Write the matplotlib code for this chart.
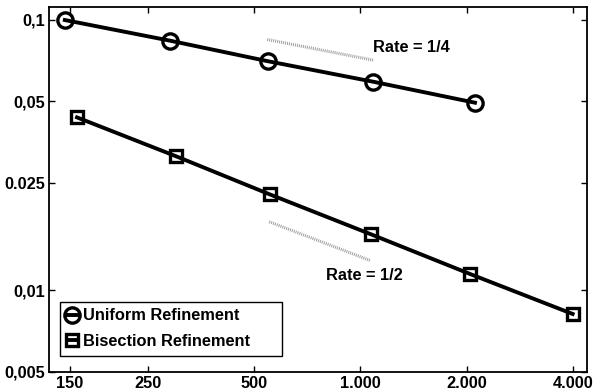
import matplotlib
matplotlib.use("Agg")
import matplotlib.pyplot as plt

plt.rcParams['font.family'] = ['Liberation Sans', 'DejaVu Sans']
plt.rcParams['font.weight'] = 'bold'

uniform_dofs = [145, 289, 545, 1089, 2113]
uniform_err = [0.0996, 0.0835, 0.0702, 0.0589, 0.0493]
bisect_dofs = [157, 299, 553, 1070, 2046, 4000]
bisect_err = [0.0435, 0.0313, 0.0226, 0.0161, 0.01148, 0.00817]

rate14_x = [544, 1087]
rate14_y = [0.0844, 0.0708]
rate12_x = [551, 1070]
rate12_y = [0.0179, 0.01285]

xticks = [150, 250, 500, 1000, 2000, 4000]
xticklabels = ['150', '250', '500', '1.000', '2.000', '4.000']
yticks = [0.005, 0.01, 0.025, 0.05, 0.1]
yticklabels = ['0,005', '0,01', '0.025', '0,05', '0,1']

fig = plt.figure(figsize=(5.94, 3.90), dpi=100)
ax = fig.add_axes([0.083, 0.047, 0.9047, 0.9343])

ax.set_xscale('log')
ax.set_yscale('log')

ax.plot(rate14_x, rate14_y, color='#a0a0a0', lw=2.2, dashes=(0.33, 0.33), dash_capstyle='butt')
ax.plot(rate12_x, rate12_y, color='#a0a0a0', lw=2.2, dashes=(0.33, 0.33), dash_capstyle='butt')

ax.plot(uniform_dofs, uniform_err, color='black', lw=2.8, marker='o', markersize=11,
        markerfacecolor='none', markeredgewidth=2.4, label='Uniform Refinement')
ax.plot(bisect_dofs, bisect_err, color='black', lw=2.8, marker='s', markersize=9,
        markerfacecolor='none', markeredgewidth=2.4, label='Bisection Refinement')

ax.set_xlim(131, 4385)
ax.set_ylim(0.005, 0.111)

ax.xaxis.set_minor_locator(matplotlib.ticker.NullLocator())
ax.yaxis.set_minor_locator(matplotlib.ticker.NullLocator())
ax.set_xticks(xticks)
ax.set_xticklabels(xticklabels)
ax.set_yticks(yticks)
ax.set_yticklabels(yticklabels)
ax.tick_params(direction='in', top=True, right=True, length=4, width=1, labelsize=11.8, pad=3)
for lab in ax.get_xticklabels() + ax.get_yticklabels():
    lab.set_fontweight('bold')
for s in ax.spines.values():
    s.set_linewidth(1.3)

leg = ax.legend(loc='lower left', bbox_to_anchor=(0.0199, 0.0439, 0.4125, 0.15), mode='expand',
                fontsize=11.8, handlelength=0.7, handletextpad=0.3, borderpad=0.4,
                labelspacing=0.65, fancybox=False, framealpha=1, edgecolor='black',
                borderaxespad=0)
leg.get_frame().set_linewidth(1.0)
for t in leg.get_texts():
    t.set_fontweight('bold')

ax.text(373 / 594, 1 - 48 / 390, 'Rate = 1/4', transform=fig.transFigure, fontsize=11.8,
        fontweight='bold', va='center', ha='left')
ax.text(326 / 594, 1 - 276 / 390, 'Rate = 1/2', transform=fig.transFigure, fontsize=11.8,
        fontweight='bold', va='center', ha='left')

fig.savefig('out.png', dpi=100)
